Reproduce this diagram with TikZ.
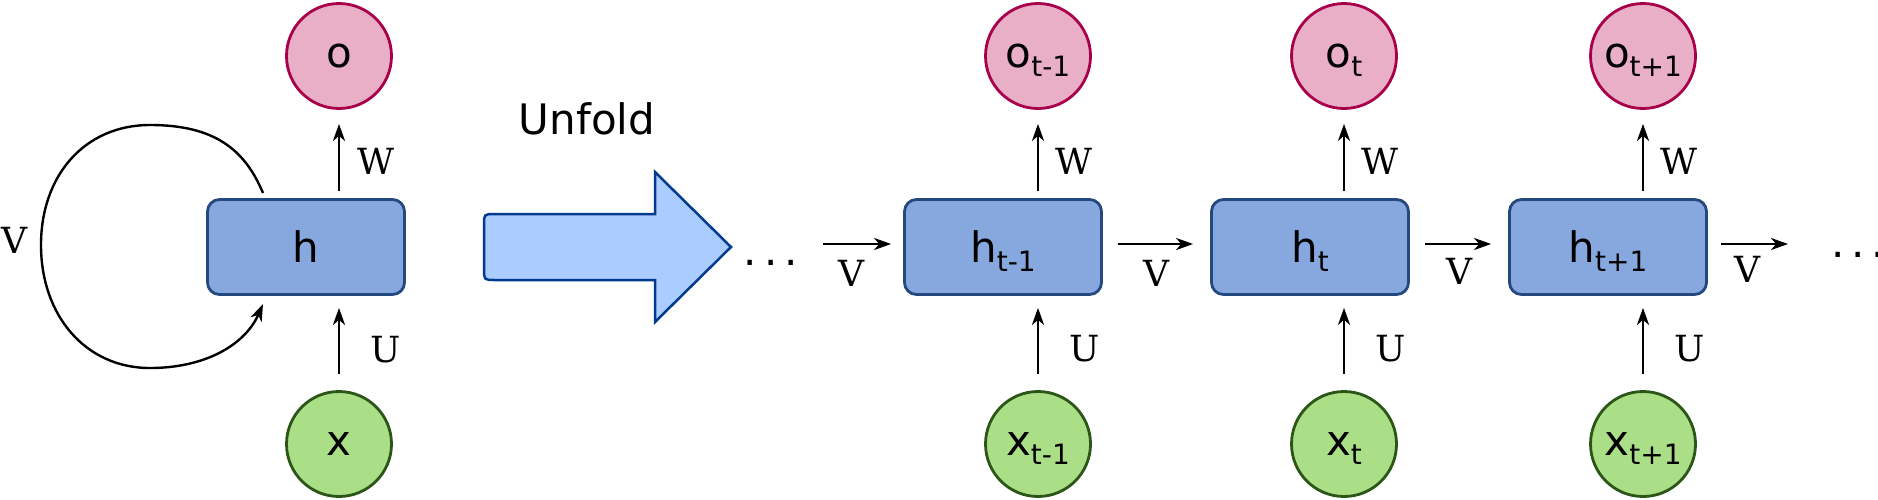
\documentclass[tikz,border=0pt]{standalone}
\usepackage{fontspec}
\setmainfont{DejaVu Sans}
\newfontfamily\lblfont{DejaVu Serif}
\usetikzlibrary{arrows.meta}
\definecolor{ofill}{HTML}{E9AFC7}
\definecolor{oline}{HTML}{A8004A}
\definecolor{xfill}{HTML}{AADE87}
\definecolor{xline}{HTML}{2C5617}
\definecolor{hfill}{HTML}{87A8DE}
\definecolor{hline}{HTML}{24497F}
\definecolor{afill}{HTML}{AACCFF}
\definecolor{aline}{HTML}{003B8E}
\newcommand\idx[1]{\raisebox{-9pt}[0pt][0pt]{\fontsize{28}{28}\selectfont#1}}
\tikzset{
  big/.style={font=\fontsize{42}{50}\selectfont},
  cellbox/.style={big,draw=hline,fill=hfill,line width=2.8pt,rounded corners=12pt,
    minimum width=197pt,minimum height=95pt,inner sep=0pt},
  outnode/.style={big,circle,draw=oline,fill=ofill,line width=2.8pt,minimum size=105pt,inner sep=0pt},
  innode/.style={big,circle,draw=xline,fill=xfill,line width=2.8pt,minimum size=105pt,inner sep=0pt},
  flow/.style={-{Stealth[length=17pt,width=12pt,inset=5pt]},line width=2.6pt},
  wlabel/.style={font=\lblfont\fontsize{36}{40}\selectfont,inner sep=0pt},
}

\begin{document}
\begin{tikzpicture}[x=1pt,y=-1pt]
  \useasboundingbox (0,0) rectangle (1878,499);
  % folded
  \node[cellbox](h)at(306,247){h};
  \node[outnode](o)at(339,56){o};
  \node[innode](x)at(339,444){x};
  \draw[flow,shorten <=7pt,shorten >=14pt](h.north -| o)--(o);
  \draw[flow,shorten <=16pt,shorten >=12pt](x)--(h.south -| x);
  \node[wlabel](w)at(376,161){W};
  \node[wlabel](u)at(386,350){U};
  \coordinate(la)at(263,193);
  \coordinate(lb)at(263,304);
  \draw[flow,line width=2.4pt](la) .. controls (245,150) and (215,125) .. (150,125)
    .. controls (85,125) and (41,175) .. (41,245)
    .. controls (41,315) and (85,368) .. (150,368)
    .. controls (205,368) and (245,345) .. (lb);
  \node[wlabel](v)at(14,240){V};
  % unfold
  \node[big](unfold)at(587,119){Unfold};
  \draw[draw=aline,fill=afill,line width=2.5pt](731,247)--(655,172)--(655,214)--(495,214)
    .. controls (484,214) .. (484,225)--(484,269)
    .. controls (484,280) .. (495,280)--(655,280)--(655,322)--cycle;
  % unfolded
  \foreach \hx/\cx/\s/\n in {1003/1038/{t-1}/a,1310/1344/t/b,1608/1643/{t+1}/c}{
    \node[cellbox](h\n)at(\hx,247){h\idx{\s}};
    \node[outnode](o\n)at(\cx,56){o\idx{\s}};
    \node[innode](x\n)at(\cx,444){x\idx{\s}};
    \draw[flow,shorten <=7pt,shorten >=14pt](h\n.north -| o\n)--(o\n);
    \draw[flow,shorten <=16pt,shorten >=12pt](x\n)--(h\n.south -| x\n);
    \node[wlabel](w\n)at(\cx+36,161){W};
    \node[wlabel](u\n)at(\cx+47,349){U};
  }
  \node[big](dl)at(771,263){.\kern7pt.\kern7pt.};
  \node[big](dr)at(1858,255){.\kern7pt.\kern7pt.};
  \coordinate(va)at(823,244);
  \coordinate(vd)at(1788,244);
  \draw[flow,shorten >=12pt](va)--([yshift=3pt]ha.west)node[wlabel,pos=0.35,yshift=-29pt](v1){V};
  \draw[flow,shorten <=15pt,shorten >=17pt]([yshift=3pt]ha.east)--([yshift=3pt]hb.west)node[wlabel,midway,yshift=-29pt](v2){V};
  \draw[flow,shorten <=15pt,shorten >=17pt]([yshift=3pt]hb.east)--([yshift=3pt]hc.west)node[wlabel,midway,yshift=-27pt](v3){V};
  \draw[flow,shorten <=13pt]([yshift=3pt]hc.east)--(vd)node[wlabel,midway,yshift=-25pt](v4){V};
\end{tikzpicture}
\end{document}
